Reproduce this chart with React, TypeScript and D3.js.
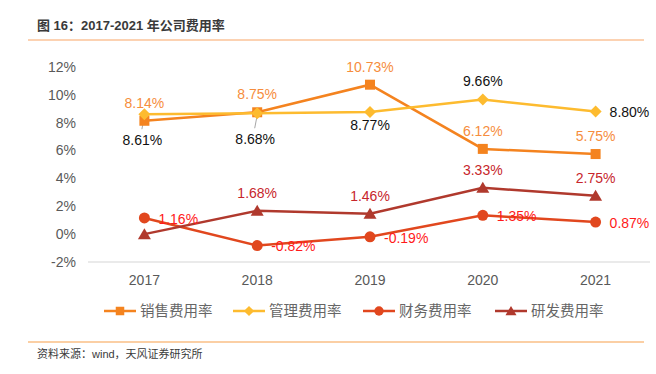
import * as d3 from 'd3';

const years = ['2017', '2018', '2019', '2020', '2021'];
const salesRate = [8.14, 8.75, 10.73, 6.12, 5.75];
const adminRate = [8.61, 8.68, 8.77, 9.66, 8.8];
const financeRate = [1.16, -0.82, -0.19, 1.35, 0.87];
const rdRate = [0.0, 1.68, 1.46, 3.33, 2.75];
const yTicks = [-2, 0, 2, 4, 6, 8, 10, 12];

type Pos = 'above' | 'below' | 'belowLeader' | 'right' | 'none';

const series = [
  { name: '销售费用率', values: salesRate, color: '#f4831f', label: '#f68d3d', marker: 'square',
    pos: ['above', 'above', 'above', 'above', 'above'] as Pos[] },
  { name: '管理费用率', values: adminRate, color: '#fdbb2f', label: '#111', marker: 'diamond',
    pos: ['belowLeader', 'belowLeader', 'below', 'above', 'right'] as Pos[] },
  { name: '财务费用率', values: financeRate, color: '#e1471e', label: '#ff1a1a', marker: 'circle',
    pos: ['right', 'right', 'right', 'right', 'right'] as Pos[] },
  { name: '研发费用率', values: rdRate, color: '#b0392d', label: '#c7262c', marker: 'triangle',
    pos: ['none', 'above', 'above', 'above', 'above'] as Pos[] },
];

const W = 656;
const H = 374;
const font = '"Liberation Sans", Arial, "Noto Sans CJK SC", sans-serif';

function Marker({ type, x, y, color, s = 1 }: { type: string; x: number; y: number; color: string; s?: number }) {
  if (type === 'square') return <rect x={x - 5 * s} y={y - 5 * s} width={10 * s} height={10 * s} fill={color} />;
  if (type === 'diamond')
    return <path d={`M${x},${y - 6 * s}L${x + 6 * s},${y}L${x},${y + 6 * s}L${x - 6 * s},${y}Z`} fill={color} />;
  if (type === 'circle') return <circle cx={x} cy={y} r={5.5 * s} fill={color} />;
  return <path d={`M${x},${y - 6 * s}L${x + 6.5 * s},${y + 5 * s}L${x - 6.5 * s},${y + 5 * s}Z`} fill={color} />;
}

export default function App() {
  const x = d3.scaleBand().domain(years).range([88, 652]);
  const y = d3.scaleLinear().domain([-2, 12]).range([262, 67]);
  const cx = (d: string) => (x(d) as number) + x.bandwidth() / 2;

  const line = d3.line<number>()
    .x((_, i) => cx(years[i]))
    .y(d => y(d));

  const legendX = [104, 233, 363, 495];

  return (
    <svg width={W} height={H} style={{ position: 'fixed', left: 0, top: 0, background: '#fff' }}
      fontFamily={font}>
      <rect width={W} height={H} fill="#fff" />
      {/* title */}
      <text x={37} y={30} fontSize={13} fontWeight="bold" fill="#3a3a3a">图 16：2017-2021 年公司费用率</text>
      <line x1={28} x2={644} y1={40} y2={40} stroke="#fbc398" strokeWidth={1.6} />

      {/* y axis labels */}
      {yTicks.map(t => (
        <text key={t} x={76} y={y(t)} dy="0.35em" textAnchor="end" fontSize={14} fill="#595959">{t}%</text>
      ))}
      <line x1={88} x2={650} y1={y(-2)} y2={y(-2)} stroke="#e3e3e3" strokeWidth={1.5} />

      {/* x axis labels */}
      {years.map(yr => (
        <text key={yr} x={cx(yr)} y={280} dy="0.35em" textAnchor="middle" fontSize={14} fill="#595959">{yr}</text>
      ))}

      {/* lines */}
      {series.map(s => (
        <path key={s.name} d={line(s.values) || ''} fill="none" stroke={s.color} strokeWidth={2.5} />
      ))}

      {/* leader lines */}
      {series.map(s => s.values.map((v, i) => s.pos[i] === 'belowLeader' ? (
        <line key={s.name + i} x1={cx(years[i])} y1={y(v) + 2} x2={cx(years[i]) - 2.5} y2={y(v) + 15}
          stroke="#a6a6a6" strokeWidth={1} />
      ) : null))}

      {/* markers */}
      {series.map(s => s.values.map((v, i) => (
        <Marker key={s.name + i} type={s.marker} x={cx(years[i])} y={y(v)} color={s.color} />
      )))}

      {/* labels */}
      {series.map(s => s.values.map((v, i) => {
        const p = s.pos[i];
        if (p === 'none') return null;
        const px = cx(years[i]);
        const py = y(v);
        let tx = px, ty = py, anchor: 'middle' | 'start' = 'middle';
        if (p === 'above') ty = py - 18;
        else if (p === 'below') ty = py + 13;
        else if (p === 'belowLeader') { ty = py + 26; tx = px - 2; }
        else if (p === 'right') { tx = px + 14; anchor = 'start'; ty = py + 1; }
        return (
          <text key={s.name + 'l' + i} x={tx} y={ty} dy="0.35em" textAnchor={anchor} fontSize={14}
            fill={s.label}>{v.toFixed(2)}%</text>
        );
      }))}

      {/* legend */}
      {series.map((s, i) => (
        <g key={s.name} transform={`translate(${legendX[i]},311)`}>
          <line x1={0} x2={32} y1={0} y2={0} stroke={s.color} strokeWidth={2.5} />
          <Marker type={s.marker} x={16} y={0} color={s.color} s={0.85} />
          <text x={36} y={0} dy="0.35em" fontSize={14.5} fill="#666">{s.name}</text>
        </g>
      ))}

      {/* footer */}
      <line x1={28} x2={644} y1={342} y2={342} stroke="#f7a04a" strokeWidth={1.2} />
      <text x={37} y={358} fontSize={11} fill="#3a3a3a">资料来源：wind，天风证券研究所</text>
    </svg>
  );
}
